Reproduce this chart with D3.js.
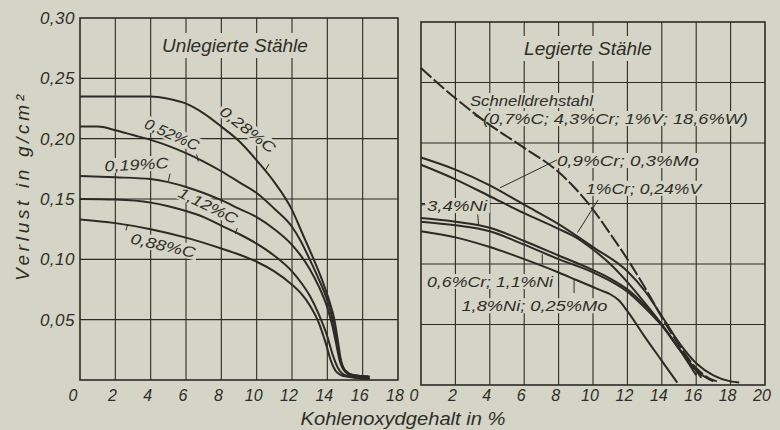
<!DOCTYPE html>
<html><head><meta charset="utf-8">
<script src="https://cdn.jsdelivr.net/npm/d3@7"></script>
<style>
html,body{margin:0;padding:0;background:#d4d5c6;}
svg{display:block;}
text{font-family:"Liberation Sans","DejaVu Sans",sans-serif;font-style:italic;fill:#2e2e28;}
</style></head><body>
<svg id="c" width="780" height="430"></svg>
<script>
// ---------- data ----------
const xTicksLeft = [0,2,4,6,8,10,12,14,16,18];
const xTicksRight = [0,2,4,6,8,10,12,14,16,18,20];
const yTicks = [0.05,0.10,0.15,0.20,0.25,0.30];
const yTickLabels = ["0,05","0,10","0,15","0,20","0,25","0,30"];

const leftTitle = "Unlegierte Stähle";
const rightTitle = "Legierte Stähle";
const yTitle = "Verlust  in  g/cm²";
const xTitle = "Kohlenoxydgehalt in %";

// unlegierte Stähle: [CO %, Verlust g/cm²]
const c028 = [[0,.235],[2,.235],[4,.235],[5,.233],[6,.229],[7,.221],[8,.210],[9,.198],[10,.182],[11,.164],[12,.141],[12.6,.121],[13.2,.101],[13.7,.083],[14.1,.066],[14.4,.050],[14.6,.032],[14.75,.018],[15,.008],[15.5,.004],[16.4,.003]];
const c052 = [[0,.210],[1,.210],[2,.207],[3,.203],[4,.199],[5,.194],[6,.188],[7,.181],[8,.173],[9,.164],[10,.155],[11,.142],[12,.127],[12.5,.115],[13,.100],[13.5,.084],[14,.066],[14.3,.050],[14.5,.035],[14.7,.019],[15,.008],[15.5,.004],[16.3,.003]];
const c019 = [[0,.169],[2,.168],[4,.1665],[5,.164],[6,.160],[7,.155],[8,.149],[9,.142],[10,.135],[11,.125],[12,.112],[12.5,.103],[13,.092],[13.5,.078],[14,.060],[14.3,.044],[14.5,.030],[14.7,.016],[15,.007],[15.5,.003],[16.4,.002]];
const c112 = [[0,.150],[2,.1495],[4,.147],[5,.144],[6,.140],[7,.135],[8,.128],[9,.121],[10,.113],[11,.103],[12,.090],[12.5,.081],[13,.070],[13.5,.055],[14,.036],[14.3,.021],[14.6,.010],[15,.004],[15.6,.002],[16.4,.001]];
const c088 = [[0,.133],[2,.130],[4,.125],[6,.118],[8,.109],[9,.104],[10,.098],[11,.090],[12,.079],[12.5,.072],[13,.062],[13.5,.048],[13.9,.031],[14.2,.016],[14.5,.007],[15,.003],[16.4,.001]];

// legierte Stähle
const schnell = [[0,.262],[2,.237],[4,.215],[6,.196],[8,.176],[9,.162],[10,.145],[11,.125],[12,.104],[13,.081],[14,.056],[15,.033],[16,.014],[16.7,.006],[17.2,.003]];
const cr09mo = [[0,.188],[2,.178],[4,.165],[6,.149],[8,.133],[10,.114],[12,.094],[13,.078],[14,.057],[15,.035],[16,.018],[17,.008],[18,.003],[18.5,.002]];
const cr1v = [[0,.182],[2,.170],[4,.156],[6,.142],[8,.129],[9,.122],[10,.112],[11,.100],[12,.085],[13,.068],[14,.050],[15,.030],[16,.012],[16.3,.006]];
const ni34 = [[0,.138],[2,.135],[4,.130],[6,.119],[8,.107],[10,.095],[11,.088],[12,.079],[13,.066],[14,.050],[15,.030],[16,.008]];
const cr06ni = [[0,.135],[2,.132],[4,.127],[6,.116],[8,.104],[10,.093],[12,.077],[13,.064],[14,.049],[15,.030],[16,.012],[17,.003]];
const ni18mo = [[0,.127],[2,.122],[4,.114],[6,.104],[8,.093],[9,.087],[10,.081],[10.5,.078],[11,.075],[11.5,.070],[12,.061],[13,.040],[14,.020],[14.9,.002]];

const leftSeries = [c028,c052,c019,c112,c088];
const rightSeries = [cr09mo,cr1v,ni34,cr06ni,ni18mo];

// curve labels: text, x, y (data units), rotation, anchor, width
const leftLabels = [
  ["0,28%C", 9.5, .2075, 38, "middle", 66],
  ["0,52%C", 5.2, .2035, 24, "middle", 58],
  ["0,19%C", 3.2, .1785, -3, "middle", 64],
  ["1,12%C", 7.25, .1445, 26, "middle", 64],
  ["0,88%C", 4.7, .1115, 13, "middle", 66]
];
const rightLabels = [
  ["Schnelldrehstahl", 2.85, .2306, 0, "start", 123],
  ["(0,7%C; 4,3%Cr; 1%V; 18,6%W)", 3.6, .2157, 0, "start", 265],
  ["0,9%Cr; 0,3%Mo", 7.9, .181, 0, "start", 142],
  ["1%Cr; 0,24%V", 9.6, .158, 0, "start", 115],
  ["3,4%Ni", 0.35, .1438, 0, "start", 60],
  ["0,6%Cr; 1,1%Ni", 0.35, .081, 0, "start", 126],
  ["1,8%Ni; 0,25%Mo", 2.35, .061, 0, "start", 146]
];
// leader ticks [x1,y1,x2,y2]
const leftLeaders = [[10.5,.174,10.7,.179],[6.6,.187,6.7,.181],[5.0,.165,5.1,.171],[8.8,.121,8.9,.126],[2.6,.124,2.7,.129]];
const rightLeaders = [[3.6,.219,3.1,.223],[7.9,.186,4.6,.163],[10.3,.153,9.1,.126],[3.3,.141,3.35,.132],[7.05,.100,7.05,.108],[8.9,.076,8.9,.087],[0,.149,0.25,.149]];

// ---------- drawing ----------
const ink = "#2b2b25", paper = "#d4d5c6";
const svg = d3.select("#c");
svg.append("rect").attr("width",780).attr("height",430).attr("fill",paper);

const xL = d3.scaleLinear().domain([0,18]).range([80,398]);
const yL = d3.scaleLinear().domain([0,0.30]).range([380,18]);
const xR = d3.scaleLinear().domain([0,20]).range([421,765]);
const yR = d3.scaleLinear().domain([0,0.30]).range([385,22]);

function panel(x, y, xt, series, labels, leaders, title, titleX, titleY, dashed) {
  const g = svg.append("g");
  const [x0,x1] = x.range(), [y0,y1] = y.range();
  // grid
  g.append("g").selectAll("line.v").data(xt.slice(1,-1)).join("line")
    .attr("x1",d=>x(d)).attr("x2",d=>x(d)).attr("y1",y0).attr("y2",y1)
    .attr("stroke",ink).attr("stroke-width",1.1);
  g.append("g").selectAll("line.h").data(yTicks.slice(0,-1)).join("line")
    .attr("y1",d=>y(d)).attr("y2",d=>y(d)).attr("x1",x0).attr("x2",x1)
    .attr("stroke",ink).attr("stroke-width",1.1);
  // title with background
  const tt = g.append("text").text(title).attr("x",titleX).attr("y",titleY)
    .attr("text-anchor","middle").attr("font-size",19);
  const tb = tt.node().getBBox();
  g.insert("rect", "text").attr("x",tb.x-4).attr("y",tb.y-2).attr("width",tb.width+8).attr("height",tb.height+4).attr("fill",paper);
  // labels
  labels.forEach(([t,lx,ly,rot,anchor,w])=>{
    const px = x(lx), py = y(ly);
    const lg = g.append("g").attr("transform",`translate(${px},${py}) rotate(${rot})`);
    const te = lg.append("text").text(t).attr("text-anchor",anchor).attr("font-size",15)
      .attr("dy", anchor==="middle" ? "0.35em" : 0)
      .attr("textLength", w).attr("lengthAdjust","spacingAndGlyphs");
    const b = te.node().getBBox();
    lg.insert("rect","text").attr("x",b.x-2).attr("y",b.y+1).attr("width",b.width+4).attr("height",b.height-2).attr("fill",paper);
  });
  // border
  g.append("rect").attr("x",x0).attr("y",y1).attr("width",x1-x0).attr("height",y0-y1)
    .attr("fill","none").attr("stroke",ink).attr("stroke-width",1.6);
  // leaders
  g.append("g").selectAll("line").data(leaders).join("line")
    .attr("x1",d=>x(d[0])).attr("y1",d=>y(d[1])).attr("x2",d=>x(d[2])).attr("y2",d=>y(d[3]))
    .attr("stroke",ink).attr("stroke-width",1);
  // curves
  const line = d3.line().x(d=>x(d[0])).y(d=>y(d[1])).curve(d3.curveMonotoneX);
  g.append("g").selectAll("path").data(series).join("path")
    .attr("d",line).attr("fill","none").attr("stroke",ink).attr("stroke-width",2);
  if (dashed) {
    g.append("path").datum(dashed).attr("d",line).attr("fill","none")
      .attr("stroke",ink).attr("stroke-width",2).attr("stroke-dasharray","14,3");
  }
  // x tick labels
  g.append("g").selectAll("text").data(xt).join("text")
    .text(d=>d).attr("x",(d,i)=>x(d)-(i===0?7:3)).attr("y",401)
    .attr("text-anchor","middle").attr("font-size",16);
}

panel(xL,yL,xTicksLeft,leftSeries,leftLabels,leftLeaders,leftTitle,235,52,null);
panel(xR,yR,xTicksRight,rightSeries,rightLabels,rightLeaders,rightTitle,588,55,schnell);

// y tick labels (left)
svg.append("g").selectAll("text").data(yTicks).join("text")
  .text((d,i)=>yTickLabels[i]).attr("x",75).attr("y",d=>yL(d)+6)
  .attr("text-anchor","end").attr("font-size",17).attr("letter-spacing",0.5);

// axis titles
svg.append("text").text(yTitle).attr("transform","translate(29,188) rotate(-90)")
  .attr("text-anchor","middle").attr("font-size",19)
  .attr("textLength",186).attr("lengthAdjust","spacing");
svg.append("text").text(xTitle).attr("x",403).attr("y",425)
  .attr("text-anchor","middle").attr("font-size",18)
  .attr("textLength",205).attr("lengthAdjust","spacingAndGlyphs");
</script>
</body></html>
